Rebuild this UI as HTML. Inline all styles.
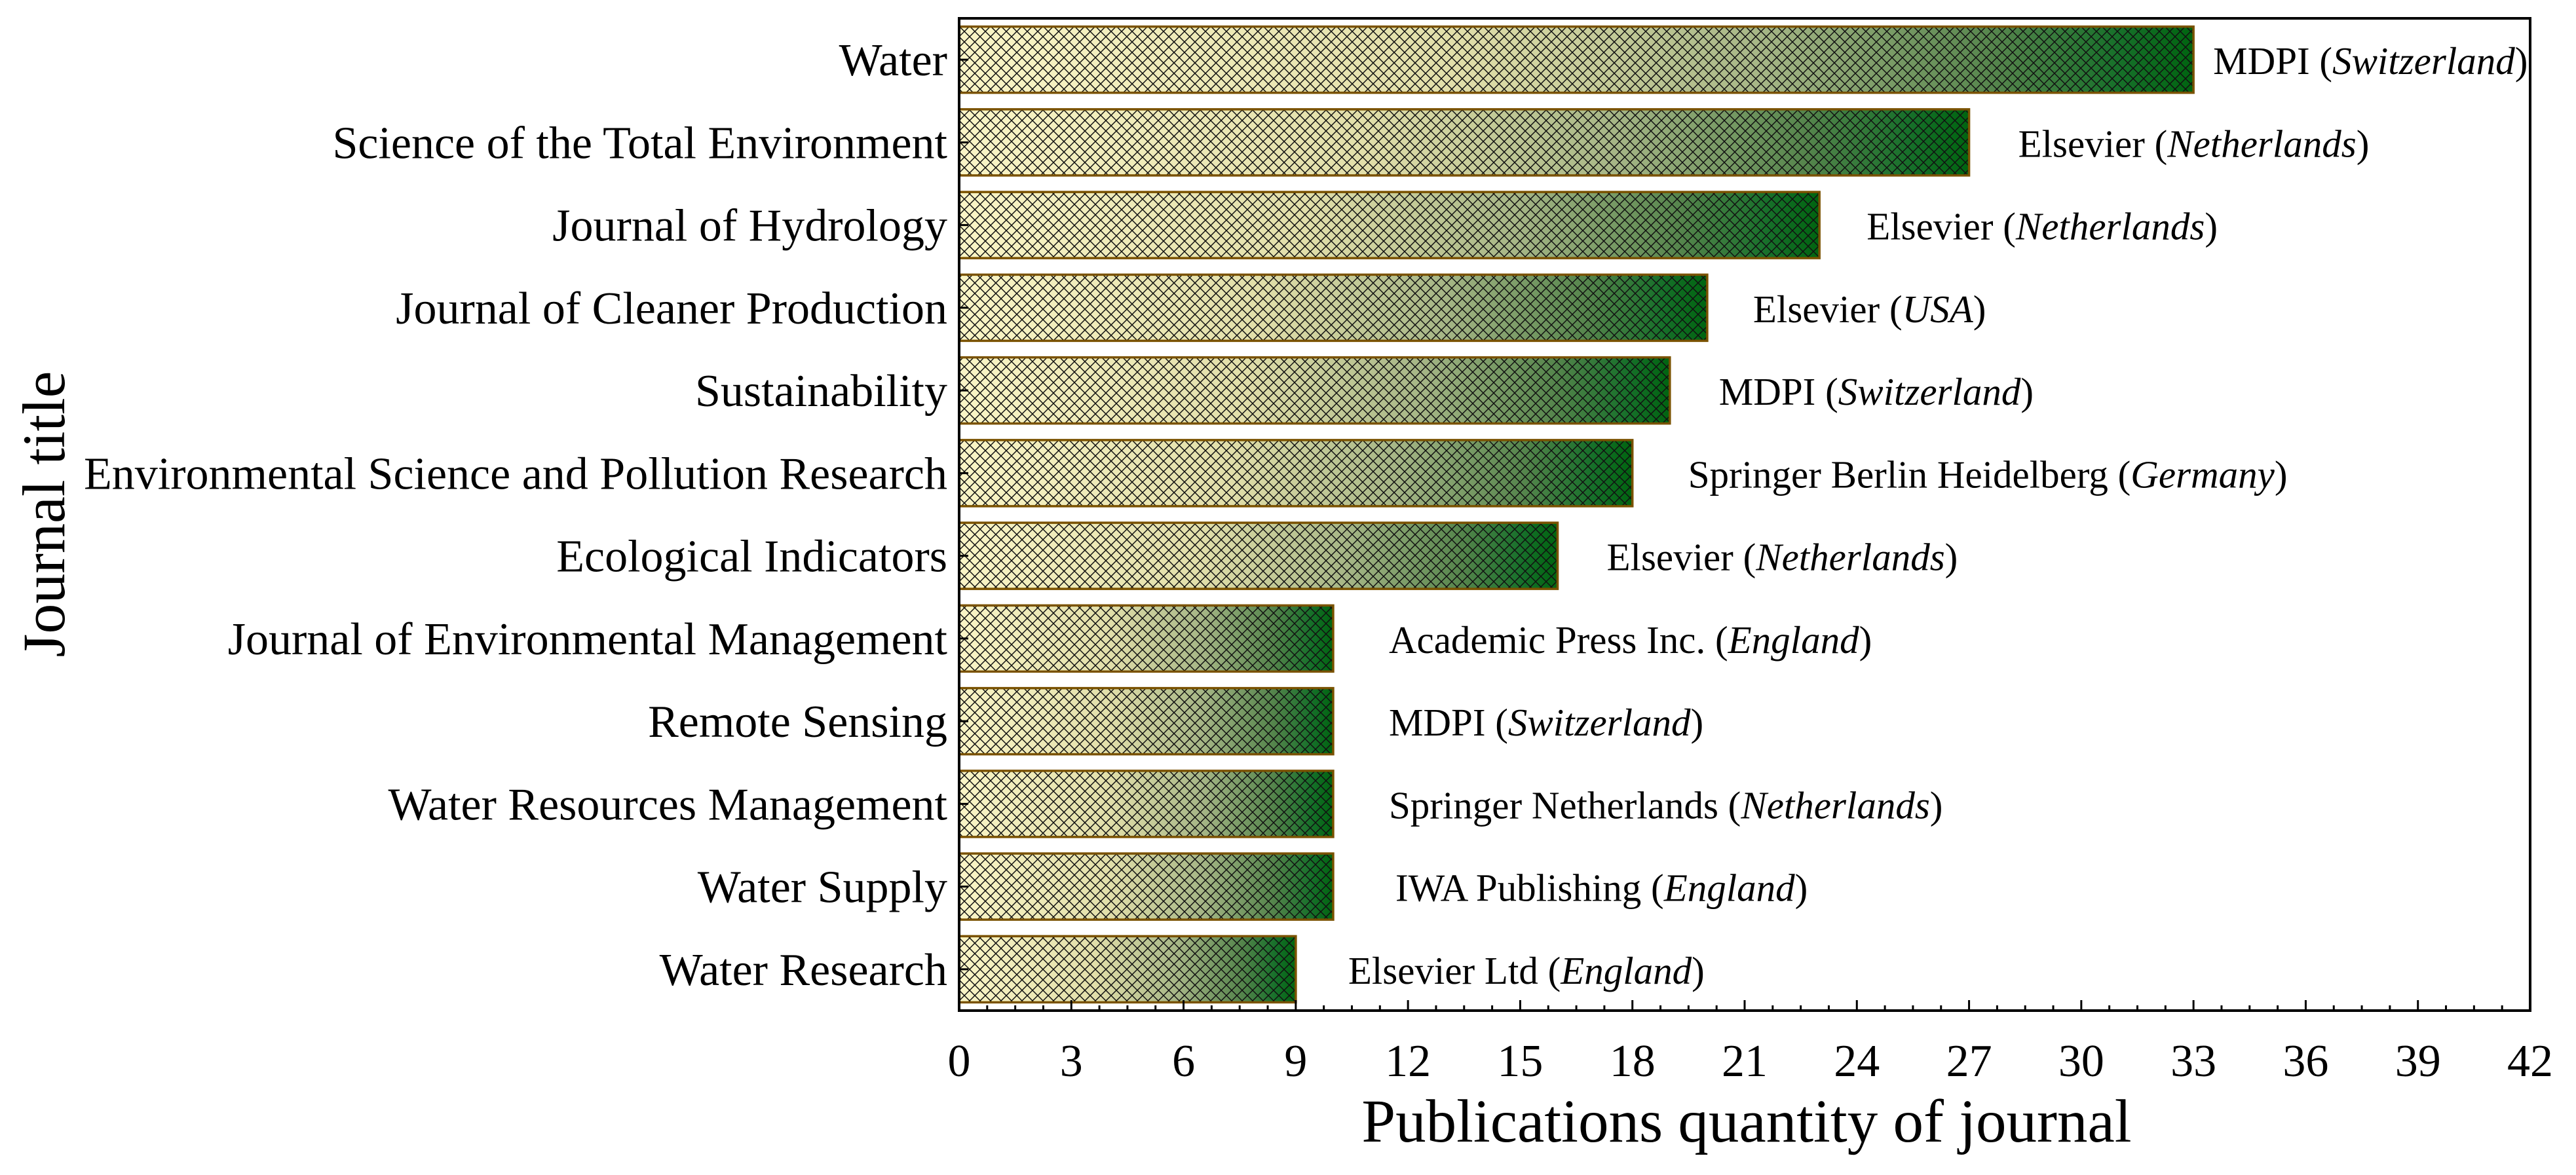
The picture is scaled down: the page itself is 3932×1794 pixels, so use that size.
<!DOCTYPE html>
<html><head><meta charset="utf-8"><style>
html,body{margin:0;padding:0;background:#fff;}
svg{display:block;font-family:"Liberation Serif",serif;}
</style></head><body>
<svg id="chart" width="3932" height="1794" viewBox="0 0 3932 1794" xmlns="http://www.w3.org/2000/svg">
<defs>
<linearGradient id="grad" x1="0" y1="0" x2="1" y2="0">
<stop offset="0" stop-color="#faf5c6"/>
<stop offset="0.4" stop-color="#e2dfaa"/>
<stop offset="0.65" stop-color="#a6b686"/>
<stop offset="0.84" stop-color="#55854c"/>
<stop offset="0.94" stop-color="#17702a"/>
<stop offset="1" stop-color="#006410"/>
</linearGradient>
<pattern id="hatch" patternUnits="userSpaceOnUse" width="16" height="16">
<path d="M0,0 L16,16 M16,0 L0,16" stroke="#111" stroke-width="1.5" fill="none"/>
</pattern>
</defs>
<g id="plot"></g>
</svg>
<script>
const journals=["Water","Science of the Total Environment","Journal of Hydrology","Journal of Cleaner Production","Sustainability","Environmental Science and Pollution Research","Ecological Indicators","Journal of Environmental Management","Remote Sensing","Water Resources Management","Water Supply","Water Research"];
const counts=[33,27,23,20,19,18,16,10,10,10,10,9];
const publishers=["MDPI","Elsevier","Elsevier","Elsevier","MDPI","Springer Berlin Heidelberg","Elsevier","Academic Press Inc.","MDPI","Springer Netherlands","IWA Publishing","Elsevier Ltd"];
const countries=["Switzerland","Netherlands","Netherlands","USA","Switzerland","Germany","Netherlands","England","Switzerland","Netherlands","England","England"];
const xTicks=[0,3,6,9,12,15,18,21,24,27,30,33,36,39,42];
const labelGap=[30,75,72,70,75,85,75,85,85,85,95,80];

const NS="http://www.w3.org/2000/svg";
const L=1464,R=3862,T=28,B=1543,XMAX=42;
const band=(B-T)/journals.length;
const x=v=>L+(R-L)*v/XMAX;
const yc=i=>T+band*(i+0.5);
const g=document.getElementById('plot');
function mk(tag,attrs,parent){const e=document.createElementNS(NS,tag);for(const k in attrs)e.setAttribute(k,attrs[k]);(parent||g).appendChild(e);return e;}

journals.forEach((j,i)=>{
  const bh=101,y0=yc(i)-bh/2,w=x(counts[i])-x(0);
  const grp=mk('g',{});
  
  
  mk('rect',{x:x(0),y:y0,width:w,height:bh,fill:'url(#grad)',stroke:'none'},grp);
  mk('rect',{x:x(0),y:y0,width:w,height:bh,fill:'url(#hatch)',stroke:'#7a5200','stroke-width':3.5},grp);
  const lab=mk('text',{x:L-18,y:yc(i)+24,'text-anchor':'end','font-size':70,fill:'#000'});
  lab.textContent=j;
  
  
  const ann=mk('text',{x:x(counts[i])+labelGap[i],y:yc(i)+22,'font-size':59,fill:'#000'});
  
  
  const t1=document.createElementNS(NS,'tspan');t1.textContent=publishers[i]+' (';ann.appendChild(t1);
  const t2=document.createElementNS(NS,'tspan');t2.setAttribute('font-style','italic');t2.textContent=countries[i];ann.appendChild(t2);
  const t3=document.createElementNS(NS,'tspan');t3.textContent=')';ann.appendChild(t3);
  mk('line',{x1:L,x2:L+14,y1:yc(i),y2:yc(i),stroke:'#000','stroke-width':3});
});

for(let k=0;k<=XMAX/0.75;k++){
  const v=k*0.75;
  const major=Math.abs(v%3)<1e-6;
  mk('line',{x1:x(v),x2:x(v),y1:B,y2:B-(major?16:8),stroke:'#000','stroke-width':3});
}
xTicks.forEach(v=>{
  const t=mk('text',{x:x(v),y:1643,'text-anchor':'middle','font-size':70,fill:'#000'});
  t.textContent=v;
  
  
});
const frame=mk('rect',{x:L,y:T,width:R-L,height:B-T,fill:'none',stroke:'#000','stroke-width':4});



const xt=mk('text',{x:2666,y:1743,'text-anchor':'middle','font-size':93,fill:'#000'});
xt.textContent='Publications quantity of journal';


const yt=mk('text',{x:0,y:0,'text-anchor':'middle','font-size':92,fill:'#000',transform:'translate(98,785) rotate(-90)'});
yt.textContent='Journal title';


</script>
</body></html>
